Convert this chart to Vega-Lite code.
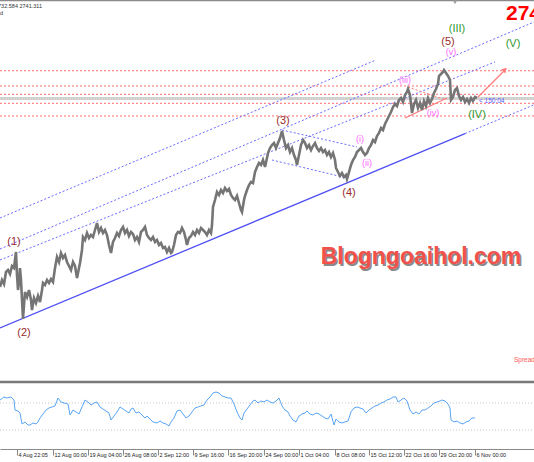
{
"$schema": "https://vega.github.io/schema/vega-lite/v6.json",
"width": 534, "height": 449,
"autosize": {"type": "none"},
"padding": {"left": 0, "top": 0, "right": 0, "bottom": 13},
"background": "white",
"config": {"view": {"stroke": null}, "font": "Liberation Sans"},
"datasets": {
"price": [
{"t":0,"p":2420.0},{"t":2,"p":2431.9},{"t":4,"p":2425.1},{"t":6,"p":2445.6},{"t":8,"p":2449.0},{"t":10,"p":2442.2},{"t":12,"p":2455.8},{"t":14,"p":2452.4},{"t":16,"p":2479.6},{"t":17,"p":2440.5},{"t":18,"p":2414.9},{"t":19,"p":2428.5},{"t":20,"p":2452.4},{"t":21,"p":2431.9},{"t":22,"p":2397.9},{"t":23,"p":2365.5},{"t":24,"p":2389.3},{"t":25,"p":2411.5},{"t":27,"p":2403.0},{"t":29,"p":2414.9},{"t":31,"p":2397.9},{"t":32,"p":2380.8},{"t":34,"p":2401.3},{"t":36,"p":2392.8},{"t":38,"p":2404.7},{"t":40,"p":2394.5},{"t":42,"p":2414.9},{"t":43,"p":2426.8},{"t":45,"p":2423.4},{"t":47,"p":2431.9},{"t":49,"p":2426.8},{"t":51,"p":2433.6},{"t":53,"p":2428.5},{"t":55,"p":2452.4},{"t":57,"p":2471.1},{"t":59,"p":2462.6},{"t":61,"p":2477.9},{"t":63,"p":2469.4},{"t":65,"p":2474.5},{"t":67,"p":2462.6},{"t":69,"p":2455.8},{"t":71,"p":2449.0},{"t":73,"p":2462.6},{"t":75,"p":2455.8},{"t":77,"p":2435.3},{"t":79,"p":2452.4},{"t":80,"p":2460.9},{"t":82,"p":2483.1},{"t":83,"p":2505.2},{"t":85,"p":2500.1},{"t":87,"p":2512.0},{"t":89,"p":2503.5},{"t":91,"p":2508.6},{"t":93,"p":2505.2},{"t":95,"p":2517.1},{"t":97,"p":2529.0},{"t":99,"p":2513.7},{"t":101,"p":2520.5},{"t":103,"p":2512.0},{"t":105,"p":2517.1},{"t":107,"p":2508.6},{"t":109,"p":2491.6},{"t":111,"p":2477.9},{"t":113,"p":2496.7},{"t":115,"p":2503.5},{"t":117,"p":2512.0},{"t":119,"p":2506.9},{"t":121,"p":2517.1},{"t":123,"p":2522.2},{"t":125,"p":2512.0},{"t":127,"p":2517.1},{"t":129,"p":2506.9},{"t":131,"p":2513.7},{"t":133,"p":2510.3},{"t":135,"p":2500.1},{"t":137,"p":2505.2},{"t":139,"p":2496.7},{"t":141,"p":2513.7},{"t":143,"p":2517.1},{"t":145,"p":2522.2},{"t":147,"p":2508.6},{"t":149,"p":2503.5},{"t":151,"p":2500.1},{"t":153,"p":2505.2},{"t":155,"p":2496.7},{"t":157,"p":2500.1},{"t":159,"p":2491.6},{"t":161,"p":2495.0},{"t":163,"p":2486.5},{"t":165,"p":2488.2},{"t":167,"p":2479.6},{"t":169,"p":2486.5},{"t":171,"p":2477.9},{"t":172,"p":2479.6},{"t":174,"p":2491.6},{"t":176,"p":2508.6},{"t":178,"p":2513.7},{"t":180,"p":2512.0},{"t":182,"p":2520.5},{"t":184,"p":2513.7},{"t":186,"p":2500.1},{"t":187,"p":2491.6},{"t":189,"p":2503.5},{"t":191,"p":2506.9},{"t":193,"p":2513.7},{"t":195,"p":2508.6},{"t":197,"p":2517.1},{"t":199,"p":2512.0},{"t":201,"p":2520.5},{"t":203,"p":2517.1},{"t":205,"p":2513.7},{"t":207,"p":2508.6},{"t":209,"p":2517.1},{"t":211,"p":2512.0},{"t":212,"p":2525.6},{"t":213,"p":2556.3},{"t":215,"p":2568.2},{"t":217,"p":2581.9},{"t":219,"p":2576.8},{"t":221,"p":2585.3},{"t":223,"p":2580.2},{"t":225,"p":2588.7},{"t":227,"p":2583.6},{"t":229,"p":2587.0},{"t":231,"p":2576.8},{"t":233,"p":2571.6},{"t":235,"p":2568.2},{"t":237,"p":2575.1},{"t":239,"p":2563.1},{"t":241,"p":2551.2},{"t":242,"p":2547.8},{"t":244,"p":2568.2},{"t":245,"p":2575.1},{"t":247,"p":2585.3},{"t":249,"p":2593.8},{"t":251,"p":2598.9},{"t":253,"p":2597.2},{"t":255,"p":2615.9},{"t":257,"p":2624.5},{"t":259,"p":2631.3},{"t":261,"p":2627.9},{"t":263,"p":2636.4},{"t":265,"p":2624.5},{"t":267,"p":2639.8},{"t":268,"p":2648.3},{"t":270,"p":2656.8},{"t":272,"p":2661.9},{"t":274,"p":2665.4},{"t":276,"p":2656.8},{"t":278,"p":2665.4},{"t":280,"p":2673.9},{"t":282,"p":2685.8},{"t":284,"p":2670.5},{"t":286,"p":2656.8},{"t":288,"p":2661.9},{"t":290,"p":2650.0},{"t":292,"p":2656.8},{"t":294,"p":2644.9},{"t":296,"p":2636.4},{"t":297,"p":2627.9},{"t":299,"p":2644.9},{"t":301,"p":2661.9},{"t":303,"p":2670.5},{"t":305,"p":2665.4},{"t":307,"p":2656.8},{"t":309,"p":2661.9},{"t":311,"p":2653.4},{"t":313,"p":2660.2},{"t":315,"p":2665.4},{"t":317,"p":2656.8},{"t":319,"p":2651.7},{"t":321,"p":2656.8},{"t":323,"p":2650.0},{"t":325,"p":2653.4},{"t":327,"p":2644.9},{"t":329,"p":2650.0},{"t":331,"p":2641.5},{"t":333,"p":2648.3},{"t":335,"p":2636.4},{"t":336,"p":2622.8},{"t":338,"p":2615.9},{"t":340,"p":2609.1},{"t":342,"p":2614.2},{"t":344,"p":2607.4},{"t":346,"p":2610.8},{"t":347,"p":2604.0},{"t":349,"p":2615.9},{"t":351,"p":2627.9},{"t":353,"p":2636.4},{"t":355,"p":2641.5},{"t":357,"p":2650.0},{"t":359,"p":2653.4},{"t":361,"p":2656.8},{"t":363,"p":2650.0},{"t":365,"p":2644.9},{"t":367,"p":2648.3},{"t":369,"p":2656.8},{"t":371,"p":2661.9},{"t":373,"p":2670.5},{"t":375,"p":2667.1},{"t":377,"p":2677.3},{"t":379,"p":2682.4},{"t":381,"p":2690.9},{"t":383,"p":2687.5},{"t":385,"p":2697.7},{"t":387,"p":2704.5},{"t":389,"p":2711.4},{"t":391,"p":2718.2},{"t":393,"p":2726.7},{"t":395,"p":2731.8},{"t":397,"p":2728.4},{"t":399,"p":2738.6},{"t":401,"p":2742.0},{"t":403,"p":2735.2},{"t":405,"p":2747.1},{"t":407,"p":2752.3},{"t":408,"p":2757.4},{"t":410,"p":2747.1},{"t":412,"p":2716.5},{"t":414,"p":2731.8},{"t":416,"p":2738.6},{"t":418,"p":2725.0},{"t":420,"p":2733.5},{"t":422,"p":2721.6},{"t":424,"p":2736.9},{"t":426,"p":2728.4},{"t":428,"p":2742.0},{"t":430,"p":2733.5},{"t":432,"p":2740.3},{"t":434,"p":2750.5},{"t":436,"p":2757.4},{"t":438,"p":2765.9},{"t":439,"p":2779.5},{"t":441,"p":2782.9},{"t":443,"p":2786.3},{"t":444,"p":2789.7},{"t":446,"p":2784.6},{"t":448,"p":2779.5},{"t":450,"p":2772.7},{"t":451,"p":2738.6},{"t":453,"p":2743.7},{"t":455,"p":2755.7},{"t":457,"p":2759.1},{"t":459,"p":2745.4},{"t":461,"p":2738.6},{"t":463,"p":2743.7},{"t":465,"p":2735.2},{"t":467,"p":2740.3},{"t":469,"p":2733.5},{"t":471,"p":2742.0},{"t":473,"p":2736.9},{"t":475,"p":2743.7},{"t":477,"p":2742.0}
],
"levels": [
{"t":0,"t2":534,"p":2788.5},{"t":0,"t2":534,"p":2762.5},{"t":0,"t2":534,"p":2748.3},{"t":0,"t2":534,"p":2733.0},{"t":0,"t2":534,"p":2711.4}
],
"bid": [{"t":0,"t2":534,"p":2741.3}],
"frame": [{"t":0,"t2":534,"p":2908.2}],
"blueDash": [
{"id":"a","t":0,"p":2537.6},{"id":"a","t":376,"p":2806.8},
{"id":"b","t":0,"p":2484.8},{"id":"b","t":534,"p":2871.5},
{"id":"c","t":0,"p":2466.0},{"id":"c","t":495,"p":2803.4},
{"id":"d","t":465,"p":2681.4},{"id":"d","t":534,"p":2730.4},
{"id":"e","t":282,"p":2687.5},{"id":"e","t":357,"p":2658.6},
{"id":"f","t":272,"p":2636.4},{"id":"f","t":347,"p":2605.7}
],
"blueSolid": [
{"id":"s","t":0,"p":2350.2},{"id":"s","t":465,"p":2681.4}
],
"redDot": [
{"id":"g","t":408,"p":2760.8},{"id":"g","t":446,"p":2738.6}
],
"redSolid": [
{"id":"h","t":405,"p":2708.0},{"id":"h","t":447,"p":2742.0},
{"id":"arrow","t":478,"p":2743.7},{"id":"arrow","t":504,"p":2788.0}
],
"arrowHead": [{"t":505,"p":2790.5}],
"shiftMark": [{"t":455,"p":2905.0}],
"waves": [
{"t":14,"p":2496.7,"txt":"(1)","deg":"P"},
{"t":24,"p":2341.6,"txt":"(2)","deg":"P"},
{"t":283,"p":2702.8,"txt":"(3)","deg":"P"},
{"t":349,"p":2580.2,"txt":"(4)","deg":"P"},
{"t":448,"p":2837.4,"txt":"(5)","deg":"P"},
{"t":457,"p":2859.6,"txt":"(III)","deg":"I"},
{"t":477,"p":2713.1,"txt":"(IV)","deg":"I"},
{"t":513,"p":2834.0,"txt":"(V)","deg":"I"},
{"t":360,"p":2672.2,"txt":"(i)","deg":"M"},
{"t":367,"p":2631.3,"txt":"(ii)","deg":"M"},
{"t":405,"p":2772.7,"txt":"(iii)","deg":"M"},
{"t":433,"p":2716.5,"txt":"(iv)","deg":"M"},
{"t":451,"p":2820.4,"txt":"(v)","deg":"M"}
],
"bigPrice": [{"t":506,"p":2885.1,"txt":"2741.311"}],
"header": [{"t":42,"p":2898.8,"txt":"2732.584 2741.311"},{"t":3,"p":2886.9,"txt":"d"}],
"timer": [{"t":479,"p":2736.9,"txt":"< 150:04"}],
"spread": [{"t":514,"p":2295.6,"txt":"Spread: 20"}],
"mark": [{"t":421,"p":2471.1,"txt":"Blogngoaihol.com"}],
"indLevels": [{"t":0,"t2":534,"v":70},{"t":0,"t2":534,"v":30}],
"indSep": [{"t":0,"t2":534,"v":101.1}],
"ind": [
{"t":0,"v":74.4},{"t":4,"v":78.9},{"t":7,"v":77.4},{"t":11,"v":78.9},{"t":14,"v":74.4},{"t":15,"v":59.6},{"t":18,"v":58.1},{"t":20,"v":55.2},{"t":22,"v":38.9},{"t":25,"v":41.9},{"t":28,"v":37.4},{"t":30,"v":37.4},{"t":33,"v":40.4},{"t":36,"v":38.9},{"t":38,"v":41.9},{"t":40,"v":47.8},{"t":43,"v":53.7},{"t":46,"v":59.6},{"t":49,"v":62.6},{"t":52,"v":64.1},{"t":55,"v":65.6},{"t":58,"v":77.4},{"t":61,"v":71.5},{"t":64,"v":70.0},{"t":68,"v":68.5},{"t":70,"v":52.2},{"t":73,"v":59.6},{"t":76,"v":56.7},{"t":79,"v":53.7},{"t":82,"v":64.1},{"t":85,"v":74.4},{"t":88,"v":71.5},{"t":91,"v":67.0},{"t":94,"v":70.0},{"t":97,"v":71.5},{"t":100,"v":64.1},{"t":103,"v":61.1},{"t":106,"v":58.1},{"t":109,"v":55.2},{"t":111,"v":44.8},{"t":114,"v":50.7},{"t":117,"v":56.7},{"t":120,"v":64.1},{"t":123,"v":61.1},{"t":126,"v":58.1},{"t":129,"v":55.2},{"t":131,"v":61.1},{"t":133,"v":62.6},{"t":136,"v":55.2},{"t":139,"v":56.7},{"t":142,"v":52.2},{"t":145,"v":47.8},{"t":147,"v":50.7},{"t":150,"v":46.3},{"t":153,"v":41.9},{"t":157,"v":40.4},{"t":160,"v":43.3},{"t":163,"v":40.4},{"t":166,"v":38.9},{"t":169,"v":35.9},{"t":171,"v":41.9},{"t":174,"v":47.8},{"t":177,"v":58.1},{"t":180,"v":59.6},{"t":183,"v":53.7},{"t":186,"v":47.8},{"t":189,"v":50.7},{"t":192,"v":56.7},{"t":195,"v":62.6},{"t":198,"v":64.1},{"t":201,"v":65.6},{"t":204,"v":67.0},{"t":207,"v":74.4},{"t":210,"v":78.9},{"t":213,"v":84.8},{"t":216,"v":86.3},{"t":219,"v":84.8},{"t":222,"v":80.4},{"t":225,"v":78.9},{"t":228,"v":77.4},{"t":231,"v":77.4},{"t":234,"v":68.5},{"t":237,"v":56.7},{"t":240,"v":47.8},{"t":242,"v":44.8},{"t":244,"v":55.2},{"t":247,"v":61.1},{"t":250,"v":67.0},{"t":253,"v":73.0},{"t":255,"v":74.4},{"t":258,"v":70.0},{"t":261,"v":73.0},{"t":264,"v":71.5},{"t":267,"v":74.4},{"t":270,"v":71.5},{"t":273,"v":70.0},{"t":276,"v":73.0},{"t":279,"v":77.4},{"t":282,"v":65.6},{"t":285,"v":59.6},{"t":288,"v":56.7},{"t":290,"v":50.7},{"t":293,"v":44.8},{"t":296,"v":41.9},{"t":299,"v":50.7},{"t":302,"v":53.7},{"t":305,"v":55.2},{"t":307,"v":58.1},{"t":310,"v":53.7},{"t":313,"v":52.2},{"t":316,"v":55.2},{"t":319,"v":53.7},{"t":322,"v":50.7},{"t":325,"v":47.8},{"t":328,"v":46.3},{"t":331,"v":53.7},{"t":334,"v":37.4},{"t":336,"v":46.3},{"t":339,"v":41.9},{"t":342,"v":40.4},{"t":345,"v":41.9},{"t":348,"v":43.3},{"t":351,"v":56.7},{"t":354,"v":62.6},{"t":357,"v":64.1},{"t":360,"v":62.6},{"t":363,"v":61.1},{"t":366,"v":55.2},{"t":369,"v":59.6},{"t":372,"v":62.6},{"t":375,"v":65.6},{"t":378,"v":67.0},{"t":381,"v":70.0},{"t":384,"v":71.5},{"t":387,"v":74.4},{"t":390,"v":75.9},{"t":393,"v":78.9},{"t":396,"v":78.9},{"t":398,"v":71.5},{"t":401,"v":74.4},{"t":404,"v":77.4},{"t":407,"v":73.0},{"t":410,"v":59.6},{"t":413,"v":53.7},{"t":416,"v":56.7},{"t":419,"v":53.7},{"t":422,"v":59.6},{"t":425,"v":59.6},{"t":428,"v":62.6},{"t":431,"v":65.6},{"t":434,"v":70.0},{"t":437,"v":71.5},{"t":440,"v":73.0},{"t":442,"v":74.4},{"t":445,"v":73.0},{"t":448,"v":68.5},{"t":450,"v":62.6},{"t":451,"v":44.8},{"t":454,"v":41.9},{"t":457,"v":43.3},{"t":460,"v":40.4},{"t":463,"v":38.9},{"t":466,"v":41.9},{"t":469,"v":43.3},{"t":472,"v":47.8},{"t":475,"v":47.8}
]
},
"encoding": {
"x": {"field": "t", "type": "quantitative",
 "scale": {"domain": [0, 534], "nice": false, "zero": false},
 "axis": {"title": null, "grid": false,
  "values": [17,53,88,123,158,193,228,264,299,335,369,404,439,475],
  "labelExpr": "['4 Aug 22:05','12 Aug 00:00','19 Aug 04:00','26 Aug 08:00','2 Sep 12:00','9 Sep 16:00','16 Sep 20:00','24 Sep 00:00','1 Oct 04:00','8 Oct 08:00','15 Oct 12:00','22 Oct 16:00','29 Oct 20:00','6 Nov 00:00'][indexof([17,53,88,123,158,193,228,264,299,335,369,404,439,475], datum.value)]",
  "domainColor": "#8a8a8a", "tickColor": "#8a8a8a", "tickSize": 6,
  "labelAlign": "left", "labelBaseline": "top", "labelPadding": -3, "labelOffset": 1,
  "labelFontSize": 5.5, "labelColor": "#222222", "labelFont": "Liberation Sans",
  "labelOverlap": false, "labelFlush": false, "labelBound": false}}
},
"layer": [
{
"encoding": {"y": {"field": "p", "type": "quantitative", "scale": {"domain": [2144, 2909], "nice": false, "zero": false}, "axis": null}},
"layer": [
 {"data": {"name": "frame"}, "mark": {"type": "rule", "color": "#8a8a8a", "strokeWidth": 1.5}, "encoding": {"x2": {"field": "t2"}}},
 {"data": {"name": "bid"}, "mark": {"type": "rule", "color": "#d2d2d2", "strokeWidth": 3}, "encoding": {"x2": {"field": "t2"}}},
 {"data": {"name": "levels"}, "mark": {"type": "rule", "color": "#ff6b6b", "strokeWidth": 1, "strokeDash": [2, 2]}, "encoding": {"x2": {"field": "t2"}}},
 {"data": {"name": "blueDash"}, "mark": {"type": "line", "color": "#6a6aff", "strokeWidth": 1, "strokeDash": [2, 2]}, "encoding": {"detail": {"field": "id"}}},
 {"data": {"name": "blueSolid"}, "mark": {"type": "line", "color": "#5050f5", "strokeWidth": 1.3}, "encoding": {"detail": {"field": "id"}}},
 {"data": {"name": "redDot"}, "mark": {"type": "line", "color": "#ff7b7b", "strokeWidth": 1, "strokeDash": [2, 2]}, "encoding": {"detail": {"field": "id"}}},
 {"data": {"name": "redSolid"}, "mark": {"type": "line", "color": "#ff7b7b", "strokeWidth": 1.2}, "encoding": {"detail": {"field": "id"}}},
 {"data": {"name": "arrowHead"}, "mark": {"type": "point", "shape": "triangle-up", "angle": 45, "size": 35, "filled": true, "color": "#ff7b7b", "opacity": 1}},
 {"data": {"name": "shiftMark"}, "mark": {"type": "point", "shape": "triangle-down", "size": 18, "filled": true, "color": "#a0a0a0", "opacity": 1}},
 {"data": {"name": "price"}, "mark": {"type": "line", "color": "#757575", "strokeWidth": 2.6, "strokeJoin": "miter"}},
 {"data": {"name": "waves"}, "transform": [{"filter": "datum.deg === 'P'"}], "mark": {"type": "text", "color": "#9a2b2b", "fontSize": 11, "align": "center", "baseline": "middle"}, "encoding": {"text": {"field": "txt"}}},
 {"data": {"name": "waves"}, "transform": [{"filter": "datum.deg === 'I'"}], "mark": {"type": "text", "color": "#2f992f", "fontSize": 11, "align": "center", "baseline": "middle"}, "encoding": {"text": {"field": "txt"}}},
 {"data": {"name": "waves"}, "transform": [{"filter": "datum.deg === 'M'"}], "mark": {"type": "text", "color": "#ff66ff", "fontSize": 9, "align": "center", "baseline": "middle"}, "encoding": {"text": {"field": "txt"}}},
 {"data": {"name": "bigPrice"}, "mark": {"type": "text", "color": "#ff0000", "fontSize": 21, "fontWeight": "bold", "align": "left", "baseline": "middle"}, "encoding": {"text": {"field": "txt"}}},
 {"data": {"name": "header"}, "mark": {"type": "text", "color": "#333333", "fontSize": 5.5, "align": "right", "baseline": "middle"}, "encoding": {"text": {"field": "txt"}}},
 {"data": {"name": "timer"}, "mark": {"type": "text", "color": "#5a5aff", "fontSize": 6.5, "align": "left", "baseline": "middle"}, "encoding": {"text": {"field": "txt"}}},
 {"data": {"name": "spread"}, "mark": {"type": "text", "color": "#ff5555", "fontSize": 6.5, "align": "left", "baseline": "middle"}, "encoding": {"text": {"field": "txt"}}},
 {"data": {"name": "mark"}, "mark": {"type": "text", "color": "#8a8a8a", "fontSize": 23, "fontWeight": "bold", "align": "center", "baseline": "middle", "dx": 1.5, "dy": 1.5}, "encoding": {"text": {"field": "txt"}}},
 {"data": {"name": "mark"}, "mark": {"type": "text", "color": "#f2514b", "fontSize": 23, "fontWeight": "bold", "align": "center", "baseline": "middle"}, "encoding": {"text": {"field": "txt"}}}
]
},
{
"encoding": {"y": {"field": "v", "type": "quantitative", "scale": {"domain": [1.85, 667.0], "nice": false, "zero": false}, "axis": null}},
"layer": [
 {"data": {"name": "indSep"}, "mark": {"type": "rule", "color": "#7a7a7a", "strokeWidth": 2.5}, "encoding": {"x2": {"field": "t2"}}},
 {"data": {"name": "indLevels"}, "mark": {"type": "rule", "color": "#c8c8c8", "strokeWidth": 1, "strokeDash": [1, 2]}, "encoding": {"x2": {"field": "t2"}}},
 {"data": {"name": "ind"}, "mark": {"type": "line", "color": "#5aa6f5", "strokeWidth": 1}}
]
}
],
"resolve": {"scale": {"y": "independent"}}
}
